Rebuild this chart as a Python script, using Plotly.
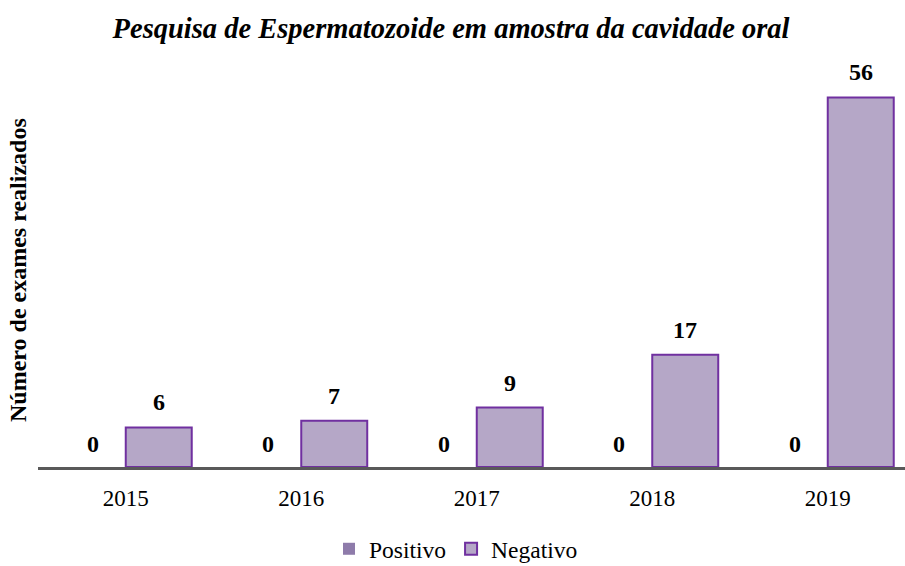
import plotly.graph_objects as go

years = ["2015", "2016", "2017", "2018", "2019"]
positivo = [0, 0, 0, 0, 0]
negativo = [6, 7, 9, 17, 56]

title = "Pesquisa de Espermatozoide em amostra da cavidade oral"
ytitle = "Número de exames realizados"

FONT = "Liberation Serif, Times New Roman, serif"
W, H = 905, 566
ml, mt, mb = 38, 71, 99
plot_w = W - ml
plot_h = H - mt - mb
cat_w = 175.5
xs = list(range(len(years)))
x_right = -0.5 + plot_w / cat_w

bw = 0.376
off = 0.188

fig = go.Figure()
fig.add_trace(go.Bar(
    x=xs, y=positivo, name="Positivo", width=bw, offset=-bw,
    marker=dict(color="#8E7BAA", line=dict(color="#8E7BAA", width=0)),
))
fig.add_trace(go.Bar(
    x=xs, y=negativo, name="Negativo", width=bw, offset=0,
    marker=dict(color="#B5A7C7", line=dict(color="#7030A0", width=2)),
))

for i in xs:
    fig.add_annotation(x=i - off, y=positivo[i], text=f"<b>{positivo[i]}</b>",
                       xref="x", yref="y", showarrow=False, yshift=23,
                       font=dict(family=FONT, size=24, color="#000000"))
    fig.add_annotation(x=i + off, y=negativo[i], text=f"<b>{negativo[i]}</b>",
                       xref="x", yref="y", showarrow=False, yshift=25,
                       font=dict(family=FONT, size=24, color="#000000"))

# y-axis title
fig.add_annotation(x=(18 - ml) / plot_w, y=(467 - 270) / plot_h, xref="paper", yref="paper",
                   text=f"<b>{ytitle}</b>", textangle=-90, showarrow=False,
                   xanchor="center", yanchor="middle",
                   font=dict(family=FONT, size=24, color="#000000"))

fig.update_layout(
    width=W, height=H,
    margin=dict(l=ml, r=0, t=mt, b=mb, autoexpand=False),
    paper_bgcolor="white", plot_bgcolor="white",
    title=dict(text=f"<b><i>{title}</i></b>", x=451 / W, xanchor="center",
               y=1 - 28 / H, yanchor="middle",
               font=dict(family=FONT, size=28.5, color="#000000")),
    barmode="overlay",
    showlegend=True,
    legend=dict(orientation="h", x=(456 - ml) / plot_w, xanchor="center",
                y=-(549 - 467) / plot_h, yanchor="middle",
                font=dict(family=FONT, size=23.5, color="#000000"),
                itemwidth=30, tracegroupgap=0, traceorder="normal"),
    xaxis=dict(range=[-0.5, x_right], tickmode="array", tickvals=xs, ticktext=years,
               showgrid=False, zeroline=False, showline=True, linecolor="#595959",
               linewidth=3, ticks="", automargin=False,
               tickfont=dict(family=FONT, size=23, color="#000000"),
               ticklabelstandoff=8),
    yaxis=dict(range=[0, 60], showgrid=False, zeroline=False, showline=False,
               showticklabels=False, ticks="", automargin=False),
)

fig.write_html("out.html", config={"displayModeBar": False})

# remove default page margin so the figure sits at the window's top-left corner
with open("out.html", "r", encoding="utf-8") as f:
    html = f.read()
html = html.replace("<body>", '<body style="margin:0;overflow:hidden">', 1)
with open("out.html", "w", encoding="utf-8") as f:
    f.write(html)
